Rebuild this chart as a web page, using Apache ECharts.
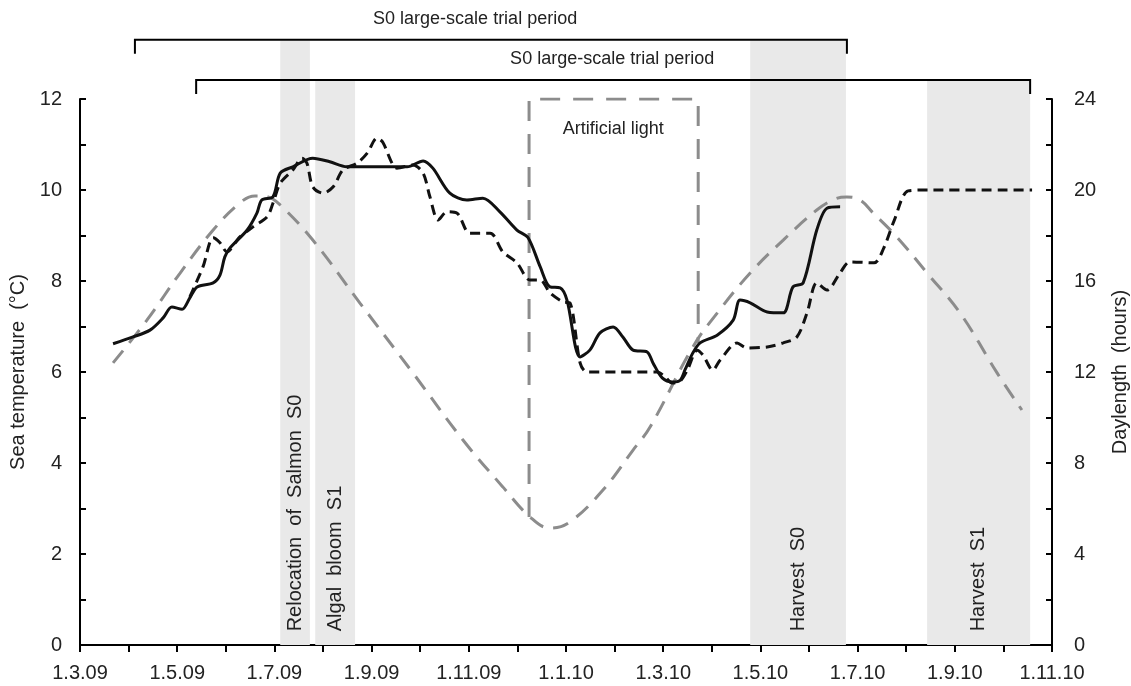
<!DOCTYPE html>
<html>
<head>
<meta charset="utf-8">
<script src="https://cdn.jsdelivr.net/npm/echarts@6/dist/echarts.min.js"></script>
<style>
  html, body { margin: 0; background: #fff; }
  #main { width: 1131px; height: 686px; }
</style>
</head>
<body>
<div id="main"></div>
<script>
// x values are months counted from 1.3.09
var xTickLabels = ['1.3.09', '1.5.09', '1.7.09', '1.9.09', '1.11.09', '1.1.10',
  '1.3.10', '1.5.10', '1.7.10', '1.9.10', '1.11.10'];

// sea temperature, solid line (S0)
var tempS0 = [[0.68, 6.62], [1.09, 6.77], [1.44, 6.92], [1.71, 7.19], [1.89, 7.43], [2.10, 7.38],
  [2.26, 7.63], [2.41, 7.87], [2.74, 7.96], [2.88, 8.13], [2.98, 8.53], [3.09, 8.73], [3.44, 9.12],
  [3.64, 9.49], [3.74, 9.78], [3.97, 9.85], [4.12, 10.37], [4.38, 10.51], [4.79, 10.70], [5.14, 10.62],
  [5.49, 10.51], [6.17, 10.51], [6.73, 10.51], [7.06, 10.64], [7.26, 10.48], [7.61, 9.93], [7.96, 9.78],
  [8.29, 9.82], [8.64, 9.52], [8.99, 9.12], [9.22, 8.95], [9.47, 8.31], [9.67, 7.87], [9.88, 7.85],
  [10.02, 7.58], [10.29, 6.33], [10.49, 6.48], [10.70, 6.86], [10.97, 6.99], [11.17, 6.77], [11.38, 6.48],
  [11.67, 6.44], [11.79, 6.20], [11.98, 5.87], [12.20, 5.78], [12.35, 5.82], [12.45, 6.05], [12.61, 6.42],
  [12.76, 6.64], [13.11, 6.81], [13.44, 7.14], [13.58, 7.58], [13.79, 7.52], [14.14, 7.32], [14.47, 7.30],
  [14.67, 7.87], [14.88, 7.96], [15.16, 9.12], [15.37, 9.60], [15.64, 9.63]];

// sea temperature, dashed line (S1)
var tempS1 = [[2.26, 7.65], [2.53, 8.31], [2.74, 8.95], [2.88, 8.84], [3.02, 8.64], [3.29, 8.97],
  [3.56, 9.19], [3.85, 9.41], [3.97, 9.71], [4.12, 10.15], [4.38, 10.44], [4.57, 10.70], [4.67, 10.59],
  [4.79, 10.07], [5.00, 9.93], [5.21, 10.07], [5.41, 10.44], [5.70, 10.59], [5.91, 10.81], [6.11, 11.14],
  [6.23, 11.05], [6.42, 10.59], [6.52, 10.48], [6.85, 10.55], [7.06, 10.37], [7.20, 9.85], [7.37, 9.34],
  [7.55, 9.52], [7.76, 9.49], [8.02, 9.05], [8.44, 9.05], [8.70, 8.64], [8.99, 8.40], [9.26, 8.02],
  [9.47, 8.02], [9.67, 7.74], [9.94, 7.54], [10.08, 7.52], [10.29, 6.20], [10.43, 6.00], [11.05, 6.00],
  [11.87, 6.00], [12.04, 5.89], [12.18, 5.76], [12.35, 5.80], [12.50, 6.05], [12.70, 6.48], [12.82, 6.37],
  [13.02, 6.04], [13.17, 6.26], [13.52, 6.64], [13.72, 6.53], [14.14, 6.55], [14.47, 6.64], [14.75, 6.77],
  [14.96, 7.30], [15.16, 7.96], [15.37, 7.80], [15.64, 8.18], [15.84, 8.42], [16.34, 8.40], [16.54, 8.73],
  [16.75, 9.32], [17.04, 9.98], [17.45, 10.00], [19.59, 10.00]];

// natural daylength (hours)
var daylength = [[0.68, 12.40], [1.38, 14.29], [2.06, 16.35], [2.74, 18.24], [3.29, 19.43], [3.60, 19.74],
  [3.87, 19.69], [4.12, 19.34], [4.79, 17.80], [5.76, 15.03], [6.85, 11.96], [7.88, 9.01], [8.70, 6.95],
  [9.26, 5.63], [9.67, 5.14], [10.08, 5.41], [10.76, 6.81], [11.38, 8.57], [11.73, 9.58], [12.61, 13.10],
  [13.11, 14.59], [13.79, 16.35], [14.47, 17.80], [15.16, 19.12], [15.53, 19.60], [15.78, 19.69],
  [16.05, 19.56], [16.32, 18.99], [16.81, 17.93], [17.43, 16.35], [18.11, 14.59], [18.87, 11.96],
  [19.38, 10.33]];

// artificial light period (hours)
var artificialLight = [[9.24, 5.63], [9.24, 24], [12.72, 24], [12.72, 13.27]];

// shaded events
var eventNames = ['Relocation  of  Salmon  S0', 'Algal  bloom  S1', 'Harvest  S0', 'Harvest  S1'];
var eventStart = [4.12, 4.84, 13.79, 17.43];
var eventEnd = [4.73, 5.66, 15.76, 19.55];
var eventTrial = [0, 1, 0, 1];

// trial period brackets
var trialNames = ['S0 large-scale trial period', 'S0 large-scale trial period'];
var trialStart = [1.13, 2.39];
var trialEnd = [15.78, 19.55];

// layout helpers (left-axis units / pixels)
var bracketLevel = [13.3, 12.42];
var trialTextX = [8.13, 10.95];
var FONT = '"Liberation Sans", Arial, sans-serif';
var TXT = '#222';

var chart = echarts.init(document.getElementById('main'));

function renderBand(params, api) {
  var i = params.dataIndex;
  var from = api.value(0), to = api.value(1), trial = api.value(2);
  var p0 = api.coord([from, 0]);
  var p1 = api.coord([to, bracketLevel[trial]]);
  var lp = api.coord([(from + to) / 2, 0.3]);
  return {
    type: 'group',
    children: [{
      type: 'rect',
      shape: { x: p0[0], y: p1[1], width: p1[0] - p0[0], height: p0[1] - p1[1] },
      style: { fill: '#e9e9e9' }
    }, {
      type: 'text',
      x: lp[0], y: lp[1],
      rotation: Math.PI / 2,
      style: {
        text: eventNames[i], font: '20px ' + FONT, fill: TXT,
        textAlign: 'left', textVerticalAlign: 'middle', align: 'left', verticalAlign: 'middle'
      }
    }]
  };
}

function renderBracket(params, api) {
  var i = params.dataIndex;
  var from = api.value(0), to = api.value(1);
  var a = api.coord([from, bracketLevel[i]]);
  var b = api.coord([to, bracketLevel[i]]);
  var t = api.coord([trialTextX[i], bracketLevel[i]]);
  return {
    type: 'group',
    children: [{
      type: 'polyline',
      shape: { points: [[a[0], a[1] + 14], [a[0], a[1]], [b[0], b[1]], [b[0], b[1] + 14]] },
      style: { stroke: '#000', lineWidth: 2, fill: null }
    }, {
      type: 'text',
      x: t[0], y: t[1] - 21,
      style: {
        text: trialNames[i], font: '18px ' + FONT, fill: TXT,
        textAlign: 'center', textVerticalAlign: 'middle', align: 'center', verticalAlign: 'middle'
      }
    }]
  };
}

var axisLine = { show: true, lineStyle: { color: '#000', width: 2 } };

var option = {
  animation: false,
  backgroundColor: '#fff',
  grid: { left: 80, right: 79, top: 99, bottom: 41, containLabel: false, outerBoundsMode: 'none' },
  xAxis: {
    type: 'value', min: 0, max: 20, interval: 1,
    axisLine: axisLine,
    axisTick: { show: true, length: 7, lineStyle: { color: '#000', width: 2 } },
    splitLine: { show: false },
    axisLabel: {
      margin: 18, fontSize: 20, fontFamily: FONT, color: TXT,
      formatter: function (v) { return v % 2 === 0 ? xTickLabels[v / 2] : ''; }
    }
  },
  yAxis: [{
    type: 'value', min: 0, max: 12, interval: 1,
    axisLine: axisLine,
    axisTick: { show: true, inside: true, length: 6, lineStyle: { color: '#000', width: 2 } },
    splitLine: { show: false },
    axisLabel: {
      margin: 18, fontSize: 20, fontFamily: FONT, color: TXT,
      formatter: function (v) { return v % 2 === 0 ? v : ''; }
    },
    name: 'Sea temperature  (°C)', nameLocation: 'middle', nameRotate: 90, nameGap: 50,
    nameTextStyle: { fontSize: 20, fontFamily: FONT, color: TXT }
  }, {
    type: 'value', position: 'right', min: 0, max: 24, interval: 2,
    axisLine: axisLine,
    axisTick: { show: true, inside: true, length: 6, lineStyle: { color: '#000', width: 2 } },
    splitLine: { show: false },
    axisLabel: {
      margin: 22, fontSize: 20, fontFamily: FONT, color: TXT,
      formatter: function (v) { return v % 4 === 0 ? v : ''; }
    },
    name: 'Daylength  (hours)', nameLocation: 'middle', nameRotate: 90, nameGap: 58,
    nameTextStyle: { fontSize: 20, fontFamily: FONT, color: TXT }
  }],
  series: [{
    type: 'custom', name: 'events', z: 1, clip: false,
    renderItem: renderBand,
    encode: { x: [0, 1], y: 2 },
    data: eventStart.map(function (s, i) { return [s, eventEnd[i], eventTrial[i]]; })
  }, {
    type: 'custom', name: 'trials', z: 4, clip: false,
    renderItem: renderBracket,
    encode: { x: [0, 1], y: 2 },
    data: trialStart.map(function (s, i) { return [s, trialEnd[i], i]; })
  }, {
    type: 'line', name: 'Daylength', yAxisIndex: 1, z: 2,
    data: daylength, symbol: 'none', smooth: 0.4,
    lineStyle: { color: '#8c8c8c', width: 3, type: [16, 10] }
  }, {
    type: 'line', name: 'Artificial light', yAxisIndex: 1, z: 2,
    data: artificialLight, symbol: 'none',
    lineStyle: { color: '#8c8c8c', width: 3, type: [20, 13] },
    markPoint: {
      symbol: 'circle', symbolSize: 1, itemStyle: { color: 'rgba(0,0,0,0)' },
      label: { show: true, position: 'inside', formatter: 'Artificial light', fontSize: 18, fontFamily: FONT, color: TXT },
      data: [{ coord: [10.97, 22.7] }]
    }
  }, {
    type: 'line', name: 'S0', z: 3,
    data: tempS0, symbol: 'none', smooth: 0.3,
    lineStyle: { color: '#111', width: 3 }
  }, {
    type: 'line', name: 'S1', z: 3,
    data: tempS1, symbol: 'none', smooth: 0.3,
    lineStyle: { color: '#111', width: 3, type: [10, 6] }
  }]
};

chart.setOption(option);
</script>
</body>
</html>
